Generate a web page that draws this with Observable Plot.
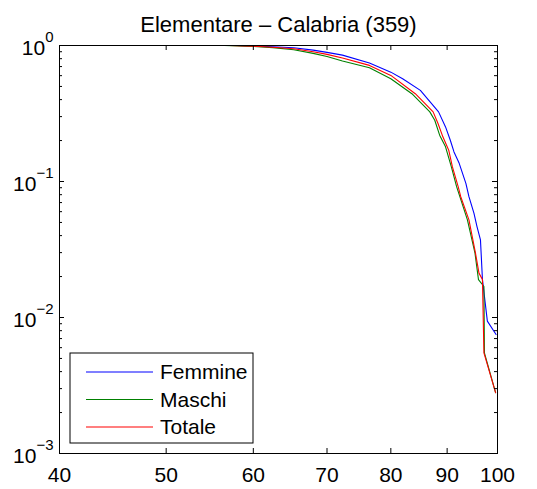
<!DOCTYPE html>
<html><head><meta charset="utf-8">
<script src="https://cdn.jsdelivr.net/npm/d3@7"></script>
<script src="https://cdn.jsdelivr.net/npm/@observablehq/plot@0.6"></script>
<style>body{margin:0;background:#fff} svg{display:block}</style>
</head><body><div id="chart"></div>
<script>
const title = "Elementare – Calabria (359)";
const seriesNames = ["Femmine", "Maschi", "Totale"];
const seriesColors = ["#0000ff", "#008000", "#ff0000"];

const femmineX = [58, 60, 62.5, 65.3, 68, 70, 72.3, 76.5, 80, 82, 85.1, 88.4, 89.7, 90.6, 91.3, 92.3, 93.6, 94.2, 95.2, 95.8, 96.5, 96.9, 97.9, 99.7];
const femmineP = [1.0, 0.99, 0.978, 0.962, 0.925, 0.89, 0.85, 0.743, 0.637, 0.57, 0.468, 0.325, 0.252, 0.201, 0.165, 0.136, 0.0969, 0.0773, 0.0583, 0.0466, 0.0372, 0.019, 0.0094, 0.0075];

const maschiX = [56.5, 60, 62.5, 65.3, 68, 70, 72.3, 76.5, 80, 83.6, 86.8, 87.7, 88.6, 89.7, 90.8, 91.8, 93.9, 95.4, 96.1, 97.2, 97.3, 99.6];
const maschiP = [1.0, 0.985, 0.965, 0.93, 0.875, 0.83, 0.77, 0.686, 0.57, 0.442, 0.325, 0.282, 0.219, 0.18, 0.128, 0.0916, 0.0522, 0.0297, 0.019, 0.0169, 0.0055, 0.0028];

const totaleX = [57, 60, 62.5, 65.3, 68, 70, 72.3, 76.5, 80, 84.2, 87.4, 88.3, 89.2, 90.3, 91.0, 92.1, 92.6, 94.2, 95.5, 96.2, 96.9, 97.2, 99.6];
const totaleP = [1.0, 0.988, 0.97, 0.946, 0.9, 0.86, 0.81, 0.714, 0.603, 0.442, 0.325, 0.267, 0.213, 0.17, 0.128, 0.0916, 0.0773, 0.0522, 0.0297, 0.0212, 0.019, 0.0055, 0.0028];

const xTicks = [40, 50, 60, 70, 80, 90, 100];
const yMajor = [0.001, 0.01, 0.1, 1];
const yMinorMult = [2, 3, 4, 5, 6, 7, 8, 9];

const W = 537, H = 489;
const mL = 59, mR = 40, mT = 45, mB = 36;
const plotW = W - mL - mR, plotH = H - mT - mB;
const FONT = "Liberation Sans, Arial, Helvetica, sans-serif";

const toRows = (name, xs, ps) => xs.map((x, i) => ({series: name, x, p: ps[i]}));
const femmine = toRows("Femmine", femmineX, femmineP);
const maschi = toRows("Maschi", maschiX, maschiP);
const totale = toRows("Totale", totaleX, totaleP);

const yMinor = yMajor.slice(0, -1).flatMap(d => yMinorMult.map(m => d * m));
const inner = xTicks.slice(1, -1);
const yInner = yMajor.slice(1, -1);
const maj = 5, mnr = 3;

const chart = Plot.plot({
  width: W, height: H,
  marginTop: mT, marginRight: mR, marginBottom: mB, marginLeft: mL,
  style: {fontFamily: FONT, background: "white", color: "black"},
  x: {type: "log", domain: [40, 100]},
  y: {type: "log", domain: [0.001, 1]},
  marks: [
    Plot.line(femmine, {x: "x", y: "p", stroke: seriesColors[0], strokeWidth: 1.1}),
    Plot.line(maschi, {x: "x", y: "p", stroke: seriesColors[1], strokeWidth: 1.1}),
    Plot.line(totale, {x: "x", y: "p", stroke: seriesColors[2], strokeWidth: 1.1}),
    Plot.frame({stroke: "black", strokeWidth: 1}),
    Plot.ruleX(inner, {x: d => d, insetTop: plotH - maj, stroke: "black"}),
    Plot.ruleX(inner, {x: d => d, insetBottom: plotH - maj, stroke: "black"}),
    Plot.ruleY(yInner, {y: d => d, insetRight: plotW - maj, stroke: "black"}),
    Plot.ruleY(yInner, {y: d => d, insetLeft: plotW - maj, stroke: "black"}),
    Plot.ruleY(yMinor, {y: d => d, insetRight: plotW - mnr, stroke: "black"}),
    Plot.ruleY(yMinor, {y: d => d, insetLeft: plotW - mnr, stroke: "black"}),
    Plot.axisX({ticks: xTicks, tickSize: 0, tickPadding: 14, tickFormat: d => String(d), fontSize: 21, label: null}),
    Plot.axisY({ticks: yMajor, tickSize: 0, tickPadding: 6, dy: 3,
      tickFormat: d => String(Math.round(Math.log10(d))).replace("-", "\u2212"), fontSize: 21, label: null}),
    Plot.text([title], {text: d => d, frameAnchor: "top", dy: -29, fontSize: 22})
  ]
});

// Superscript tick labels: 10^e
chart.querySelectorAll('g[aria-label="y-axis tick label"] text').forEach(t => {
  const e = t.textContent;
  t.textContent = "";
  const ns = "http://www.w3.org/2000/svg";
  const base = document.createElementNS(ns, "tspan");
  base.textContent = "10";
  const sup = document.createElementNS(ns, "tspan");
  sup.textContent = e;
  sup.setAttribute("dy", "-13");
  sup.setAttribute("font-size", "15");
  t.appendChild(base); t.appendChild(sup);
});

// Legend box
const svg = d3.select(chart);
const lg = svg.append("g").attr("font-family", FONT).attr("font-size", 21).attr("text-anchor", "start");
const lx = mL + 11, ly = mT + 308, lw = 183, lh = 90;
lg.append("rect").attr("x", lx).attr("y", ly).attr("width", lw).attr("height", lh)
  .attr("fill", "white").attr("stroke", "black").attr("stroke-width", 1);
seriesNames.forEach((name, i) => {
  const cy = ly + 19 + i * 27.5;
  lg.append("line").attr("x1", lx + 16).attr("x2", lx + 83).attr("y1", cy).attr("y2", cy)
    .attr("stroke", seriesColors[i]).attr("stroke-width", 1.2);
  lg.append("text").attr("x", lx + 90).attr("y", cy).attr("dy", "0.35em")
    .attr("text-anchor", "start").attr("fill", "black").text(name);
});

document.getElementById("chart").appendChild(chart);
</script>
</body></html>
